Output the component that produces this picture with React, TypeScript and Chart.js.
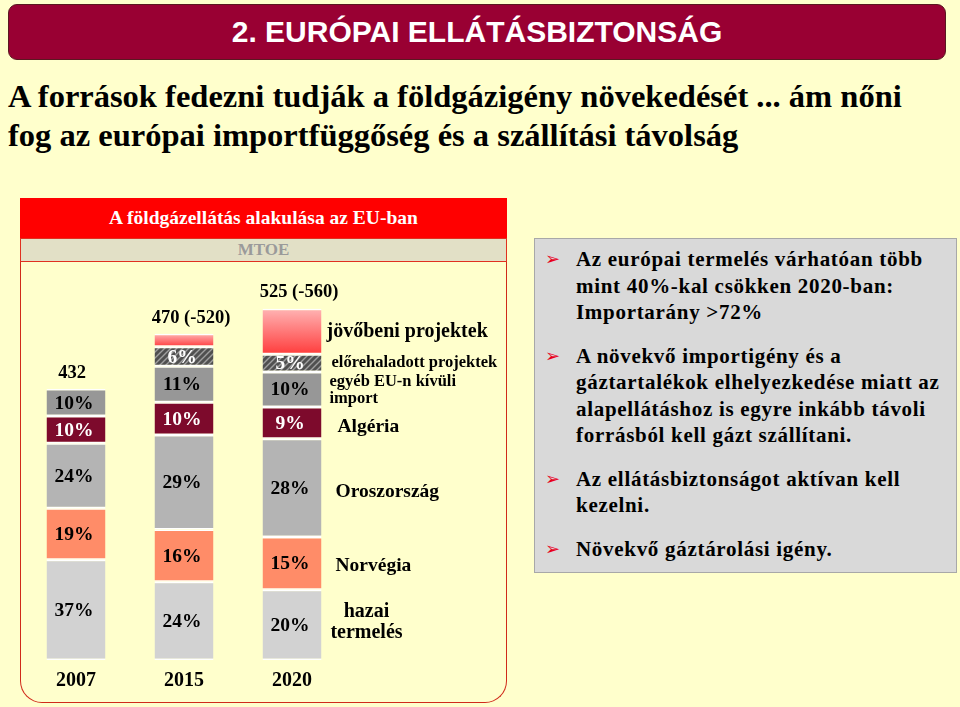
import React, { useEffect, useRef } from "react";
import { Chart, registerables } from "chart.js";

Chart.register(...registerables);

// ---- data ----
const years = ["2007", "2015", "2020"];
const barTotals = [432, 520, 560]; // MTOE (upper estimate, bar height)
const totalLabels = ["432", "470 (-520)", "525 (-560)"];
const domestic = [37, 24, 20]; // % hazai termelés
const norway = [19, 16, 15]; // % Norvégia
const russia = [24, 29, 28]; // % Oroszország
const algeria = [10, 10, 9]; // % Algéria
const otherImport = [10, 11, 10]; // % egyéb EU-n kívüli import
const advancedProjects = [0, 6, 5]; // % előrehaladott projektek
const futureProjects = [0, 4, 13]; // % jövőbeni projektek (no label)

const seriesNames: (string | string[])[] = [
  ["hazai", "termelés"],
  "Norvégia",
  "Oroszország",
  "Algéria",
  ["egyéb EU-n kívüli", "import"],
  "előrehaladott projektek",
  "jövőbeni projektek",
];

const bullets = [
  "Az európai termelés várhatóan több mint 40%-kal csökken 2020-ban: Importarány >72%",
  "A növekvő importigény és a gáztartalékok elhelyezkedése miatt az alapellátáshoz is egyre inkább távoli forrásból kell gázt szállítani.",
  "Az ellátásbiztonságot aktívan kell kezelni.",
  "Növekvő gáztárolási igény.",
];

const SERIF = "'Liberation Serif', 'Times New Roman', serif";

function makeHatch(): CanvasPattern | string {
  const c = document.createElement("canvas");
  c.width = 6;
  c.height = 6;
  const g = c.getContext("2d");
  if (!g) return "#666";
  g.fillStyle = "#505050";
  g.fillRect(0, 0, 6, 6);
  g.strokeStyle = "#a0a0a0";
  g.lineWidth = 1.4;
  g.beginPath();
  g.moveTo(0, 6);
  g.lineTo(6, 0);
  g.moveTo(-3, 3);
  g.lineTo(3, -3);
  g.moveTo(3, 9);
  g.lineTo(9, 3);
  g.stroke();
  return g.createPattern(c, "repeat") || "#666";
}

const labelPlugin = {
  id: "slideLabels",
  afterDatasetsDraw(chart: any) {
    const ctx = chart.ctx;
    const yScale = chart.scales.y;
    ctx.save();
    ctx.textAlign = "center";
    ctx.textBaseline = "middle";
    // percentage labels
    chart.data.datasets.forEach((ds: any, di: number) => {
      if (!ds.pctLabels) return;
      const meta = chart.getDatasetMeta(di);
      meta.data.forEach((el: any, i: number) => {
        const v = ds.pct[i];
        if (!v) return;
        const { y, base } = el.getProps(["y", "base"], true);
        ctx.font = `bold 19.5px ${SERIF}`;
        ctx.fillStyle = ds.labelColor;
        ctx.fillText(v + "%", el.x - 2, (y + base) / 2 + 1);
      });
    });
    // totals above bars
    const meta0 = chart.getDatasetMeta(0);
    meta0.data.forEach((el: any, i: number) => {
      const top = yScale.getPixelForValue(barTotals[i]);
      ctx.font = `bold 18.5px ${SERIF}`;
      ctx.fillStyle = "#000";
      ctx.fillText(totalLabels[i], el.x + (i === 0 ? -4 : 7), top - 16);
    });
    // series names next to last bar
    const last = years.length - 1;
    chart.data.datasets.forEach((ds: any, di: number) => {
      const meta = chart.getDatasetMeta(di);
      const el = meta.data[last];
      if (!el) return;
      const { x, y, base, width } = el.getProps(["x", "y", "base", "width"], true);
      const right = x + width / 2;
      const cy = (y + base) / 2;
      const name = seriesNames[di];
      const size = ds.nameSize;
      ctx.font = `bold ${size}px ${SERIF}`;
      ctx.fillStyle = "#000";
      const lines = Array.isArray(name) ? name : [name];
      const lh = size * 1.05;
      lines.forEach((ln, k) => {
        const ly = cy + (k - (lines.length - 1) / 2) * lh + ds.nameDy;
        if (ds.nameCenter) {
          ctx.textAlign = "center";
          ctx.fillText(ln, right + 45, ly);
        } else {
          ctx.textAlign = "left";
          ctx.fillText(ln, right + ds.nameDx, ly);
        }
      });
    });
    ctx.restore();
  },
};

function ChartPanel() {
  const ref = useRef<HTMLCanvasElement | null>(null);
  useEffect(() => {
    if (!ref.current) return;
    const toVals = (pct: number[]) => pct.map((p, i) => (p * barTotals[i]) / 100);
    const hatch = makeHatch();
    const futureGradient = (context: any) => {
      const chart = context.chart;
      const y = chart.scales && chart.scales.y;
      if (!y || !chart.chartArea) return "#ff5050";
      const i = context.dataIndex;
      const top = y.getPixelForValue(barTotals[i]);
      const bottom = y.getPixelForValue(barTotals[i] * (1 - futureProjects[i] / 100));
      const g = chart.ctx.createLinearGradient(0, top, 0, bottom);
      g.addColorStop(0, "#ffb4b4");
      g.addColorStop(1, "#ff3c3c");
      return g;
    };
    const common = {
      borderColor: "#ffffff",
      borderWidth: { top: 1.5, bottom: 1.5, left: 0, right: 0 },
      borderSkipped: false as const,
      categoryPercentage: 1,
      barPercentage: 0.546,
    };
    const chart = new Chart(ref.current, {
      type: "bar",
      data: {
        labels: years,
        datasets: [
          { ...common, label: "hazai termelés", data: toVals(domestic), pct: domestic, pctLabels: true, labelColor: "#000", backgroundColor: "#d2d2d2", nameSize: 20, nameDx: 12, nameDy: -3, nameCenter: true },
          { ...common, label: "Norvégia", data: toVals(norway), pct: norway, pctLabels: true, labelColor: "#000", backgroundColor: "#ff8c68", nameSize: 19.5, nameDx: 14, nameDy: 3 },
          { ...common, label: "Oroszország", data: toVals(russia), pct: russia, pctLabels: true, labelColor: "#000", backgroundColor: "#b4b4b4", nameSize: 19.5, nameDx: 14, nameDy: 4 },
          { ...common, label: "Algéria", data: toVals(algeria), pct: algeria, pctLabels: true, labelColor: "#fff", backgroundColor: "#7d0a2c", nameSize: 19.5, nameDx: 16, nameDy: 4 },
          { ...common, label: "egyéb EU-n kívüli import", data: toVals(otherImport), pct: otherImport, pctLabels: true, labelColor: "#000", backgroundColor: "#979797", nameSize: 16.5, nameDx: 8, nameDy: 1 },
          { ...common, label: "előrehaladott projektek", data: toVals(advancedProjects), pct: advancedProjects, pctLabels: true, labelColor: "#fff", backgroundColor: hatch, nameSize: 16.5, nameDx: 10, nameDy: 0 },
          { ...common, label: "jövőbeni projektek", data: toVals(futureProjects), pct: futureProjects, pctLabels: false, labelColor: "#000", backgroundColor: futureGradient, nameSize: 20, nameDx: 5, nameDy: 0 },
        ] as any,
      },
      options: {
        animation: false,
        responsive: false,
        maintainAspectRatio: false,
        layout: { padding: { left: 2, right: 161, top: 0, bottom: 0 } },
        plugins: { legend: { display: false }, tooltip: { enabled: false } },
        scales: {
          x: {
            stacked: true,
            grid: { display: false, drawTicks: false },
            border: { display: false },
            ticks: { color: "#000", padding: 9, font: { family: SERIF, size: 20, weight: "bold" } },
          },
          y: { stacked: true, display: false, min: 0, max: 620 },
        },
      },
      plugins: [labelPlugin],
    });
    return () => chart.destroy();
  }, []);
  return (
    <canvas
      ref={ref}
      width={487}
      height={431}
      style={{ position: "absolute", left: 20, top: 271, width: 487, height: 431 }}
    />
  );
}

export default function App() {
  return (
    <div
      style={{
        position: "fixed",
        left: 0,
        top: 0,
        width: 960,
        height: 707,
        background: "#ffffcc",
        overflow: "hidden",
        fontFamily: SERIF,
      }}
    >
      {/* title bar */}
      <div
        style={{
          position: "absolute",
          left: 8,
          top: 4,
          width: 936,
          height: 54,
          background: "#990033",
          border: "1px solid #5a1820",
          borderRadius: 9,
          color: "#fff",
          fontFamily: "'Liberation Sans', Arial, sans-serif",
          fontWeight: "bold",
          fontSize: 30,
          lineHeight: "54px",
          textAlign: "center",
        }}
      >
        2. EURÓPAI ELLÁTÁSBIZTONSÁG
      </div>
      {/* subtitle */}
      <div
        style={{
          position: "absolute",
          left: 8,
          top: 77,
          width: 950,
          fontSize: 32.5,
          fontWeight: "bold",
          lineHeight: "39px",
          color: "#000",
          whiteSpace: "nowrap",
        }}
      >
        A források fedezni tudják a földgázigény növekedését ... ám nőni
        <br />
        fog az európai importfüggőség és a szállítási távolság
      </div>
      {/* chart panel */}
      <div
        style={{
          position: "absolute",
          left: 20,
          top: 198,
          width: 485,
          height: 504,
          border: "1.5px solid #d02a1a",
          borderTop: "none",
          borderRadius: "0 0 22px 22px",
        }}
      />
      <div
        style={{
          position: "absolute",
          left: 20,
          top: 198,
          width: 487,
          height: 40,
          background: "#ff0000",
          color: "#fff",
          fontWeight: "bold",
          fontSize: 19.5,
          lineHeight: "40px",
          textAlign: "center",
        }}
      >
        A földgázellátás alakulása az EU-ban
      </div>
      <div
        style={{
          position: "absolute",
          left: 20,
          top: 238,
          width: 485,
          height: 22,
          background: "#e2e0c6",
          border: "1px solid #e03020",
          color: "#9a9a9a",
          fontWeight: "bold",
          fontSize: 17,
          lineHeight: "22px",
          textAlign: "center",
        }}
      >
        MTOE
      </div>
      <ChartPanel />
      {/* text box */}
      <div
        style={{
          position: "absolute",
          left: 534,
          top: 238,
          width: 405,
          height: 320,
          background: "#d9d9d9",
          border: "1px solid #a8a8a8",
          padding: "7px 8px 6px 8px",
        }}
      >
        {bullets.map((b, i) => (
          <div
            key={i}
            style={{
              position: "relative",
              paddingLeft: 33,
              marginBottom: 17,
              fontSize: 21,
              letterSpacing: 0.7,
              fontWeight: "bold",
              lineHeight: "26.5px",
              color: "#000",
            }}
          >
            <span
              style={{
                position: "absolute",
                left: 2,
                top: 0,
                color: "#e8001c",
                fontFamily: "'DejaVu Sans', sans-serif",
                fontSize: 18,
                letterSpacing: 0,
              }}
            >
              ➢
            </span>
            {b}
          </div>
        ))}
      </div>
    </div>
  );
}
